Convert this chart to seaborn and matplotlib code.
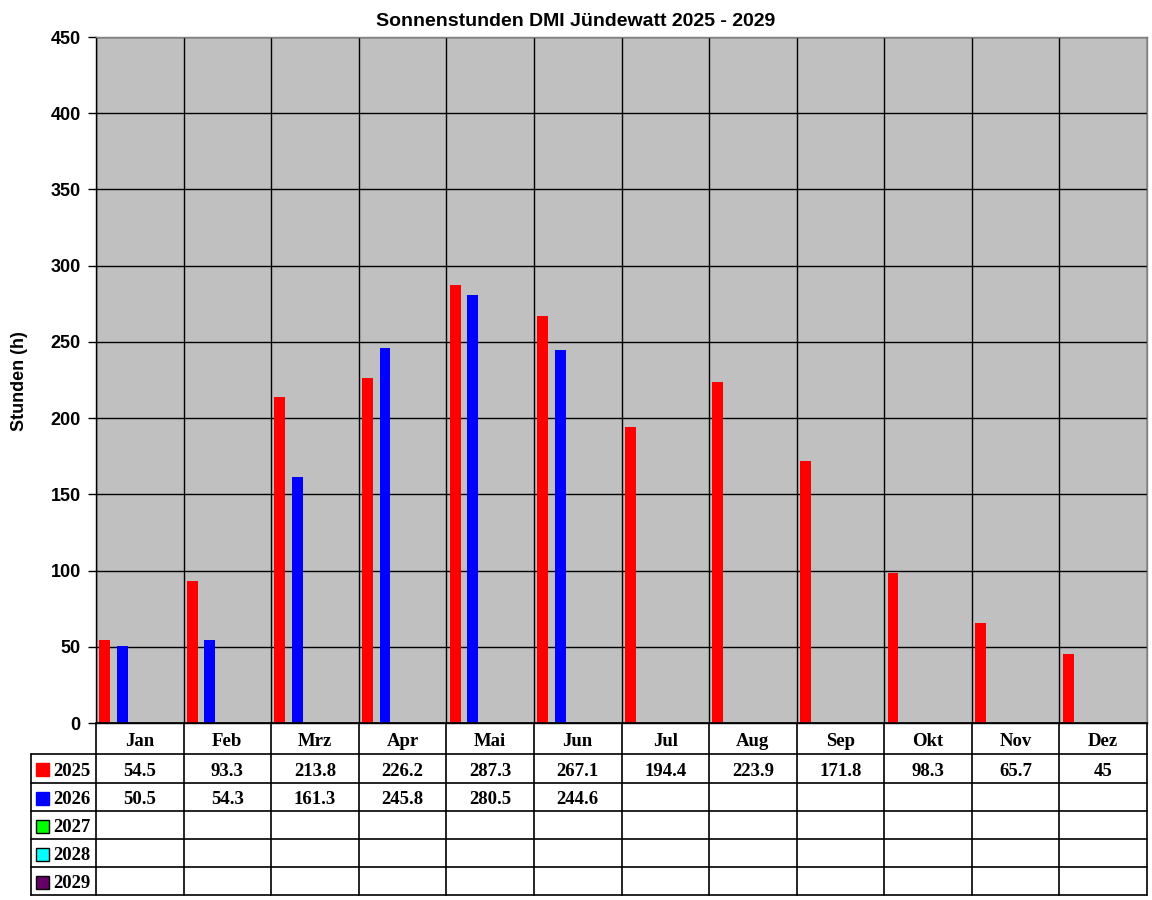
import matplotlib
matplotlib.use("Agg")
import matplotlib.pyplot as plt
import seaborn as sns
import pandas as pd
import numpy as np

# ---------------- data ----------------
months = ["Jan", "Feb", "Mrz", "Apr", "Mai", "Jun", "Jul", "Aug", "Sep", "Okt", "Nov", "Dez"]
years = ["2025", "2026", "2027", "2028", "2029"]
v2025 = [54.5, 93.3, 213.8, 226.2, 287.3, 267.1, 194.4, 223.9, 171.8, 98.3, 65.7, 45]
v2026 = [50.5, 54.3, 161.3, 245.8, 280.5, 244.6, None, None, None, None, None, None]
v2027 = [None] * 12
v2028 = [None] * 12
v2029 = [None] * 12
series = [v2025, v2026, v2027, v2028, v2029]
colors = ["#FF0000", "#0000FF", "#00FF00", "#00FFFF", "#660066"]
yticks = [0, 50, 100, 150, 200, 250, 300, 350, 400, 450]
title = "Sonnenstunden DMI Jündewatt 2025 - 2029"
ylabel = "Stunden (h)"

rows = []
for y, vals in zip(years, series):
    for m, v in zip(months, vals):
        rows.append({"Monat": m, "Jahr": y, "Wert": np.nan if v is None else v})
df = pd.DataFrame(rows)

# ---------------- figure ----------------
sns.set_theme(style="white")
plt.rcParams["font.family"] = ["Liberation Sans", "DejaVu Sans"]
plt.rcParams["text.color"] = "black"
plt.rcParams["axes.labelcolor"] = "black"
plt.rcParams["ytick.color"] = "black"

W, H = 1152, 900
fig = plt.figure(figsize=(W / 100, H / 100), dpi=100)
L, R, T, B = 96, 1147, 37, 723
ax = fig.add_axes([L / W, 1 - B / H, (R - L) / W, (B - T) / H])

sns.barplot(data=df.dropna(), x="Monat", y="Wert", hue="Jahr", order=months, hue_order=years,
            palette=dict(zip(years, colors)), width=1.0, gap=0.375, dodge=True,
            saturation=1, errorbar=None, legend=False, ax=ax, zorder=3, linewidth=0)

ax.set_facecolor("#C0C0C0")
ax.set_xlim(-0.5, len(months) - 0.5)
ax.set_ylim(yticks[0], yticks[-1])
ax.set_yticks(yticks)
ax.set_yticklabels([str(t) for t in yticks], fontsize=13, fontweight="bold", color="black")
ax.set_xticks([])
ax.set_xticks(np.arange(len(months) + 1) - 0.5, minor=True)
ax.tick_params(axis="x", which="both", length=0, labelbottom=False)
ax.tick_params(axis="y", which="major", length=6, width=1, color="black", direction="out", pad=5, left=True)
ax.grid(True, axis="y", which="major", color="black", linewidth=1, zorder=1)
ax.grid(True, axis="x", which="minor", color="black", linewidth=1, zorder=1)
ax.set_axisbelow(True)
ax.set_xlabel("")
ax.set_ylabel("")
for s in ["left", "bottom"]:
    ax.spines[s].set_color("black")
    ax.spines[s].set_linewidth(1)
for s in ["top", "right"]:
    ax.spines[s].set_color("#808080")
    ax.spines[s].set_linewidth(1)

fig.text(0.5, 1 - 22 / H, title, ha="center", va="center", fontsize=14, fontweight="bold", color="black")
fig.text(20 / W, 1 - 381 / H, ylabel, ha="center", va="center", rotation=90, fontsize=13,
         fontweight="bold", color="black")

# ---------------- data table ----------------
ov = fig.add_axes([0, 0, 1, 1], facecolor="none")
ov.set_xlim(0, W)
ov.set_ylim(H, 0)
ov.axis("off")

xb = [L + (i) * (R - L) / len(months) for i in range(len(months) + 1)]
row_edges = [723, 754, 783, 811, 839, 867, 895]
left_x = 31
serif = ["Liberation Serif", "DejaVu Serif"]
lk = dict(color="black", linewidth=1.2)

for x in xb:
    ov.plot([x, x], [row_edges[0], row_edges[-1]], **lk)
ov.plot([left_x, left_x], [row_edges[1], row_edges[-1]], **lk)
ov.plot([L, R], [row_edges[0], row_edges[0]], **lk)
for yv in row_edges[1:]:
    ov.plot([left_x, R], [yv, yv], **lk)

for i, m in enumerate(months):
    ov.text((xb[i] + xb[i + 1]) / 2, (row_edges[0] + row_edges[1]) / 2 + 3, m, ha="center", va="center",
            fontsize=13.5, fontweight="bold", family=serif, color="black")

for r, (yname, vals, col) in enumerate(zip(years, series, colors)):
    yc = (row_edges[r + 1] + row_edges[r + 2]) / 2 + 2.5
    ec = col if r < 2 else "black"
    ov.add_patch(plt.Rectangle((36, yc - 8), 13, 13, facecolor=col, edgecolor=ec, linewidth=1))
    ov.text(53, yc, yname, ha="left", va="center", fontsize=13.5, fontweight="bold", family=serif, color="black")
    for i, v in enumerate(vals):
        if v is None:
            continue
        ov.text((xb[i] + xb[i + 1]) / 2, yc, "%g" % v, ha="center", va="center",
                fontsize=13.5, fontweight="bold", family=serif, color="black")

fig.savefig("out.png", dpi=100)
